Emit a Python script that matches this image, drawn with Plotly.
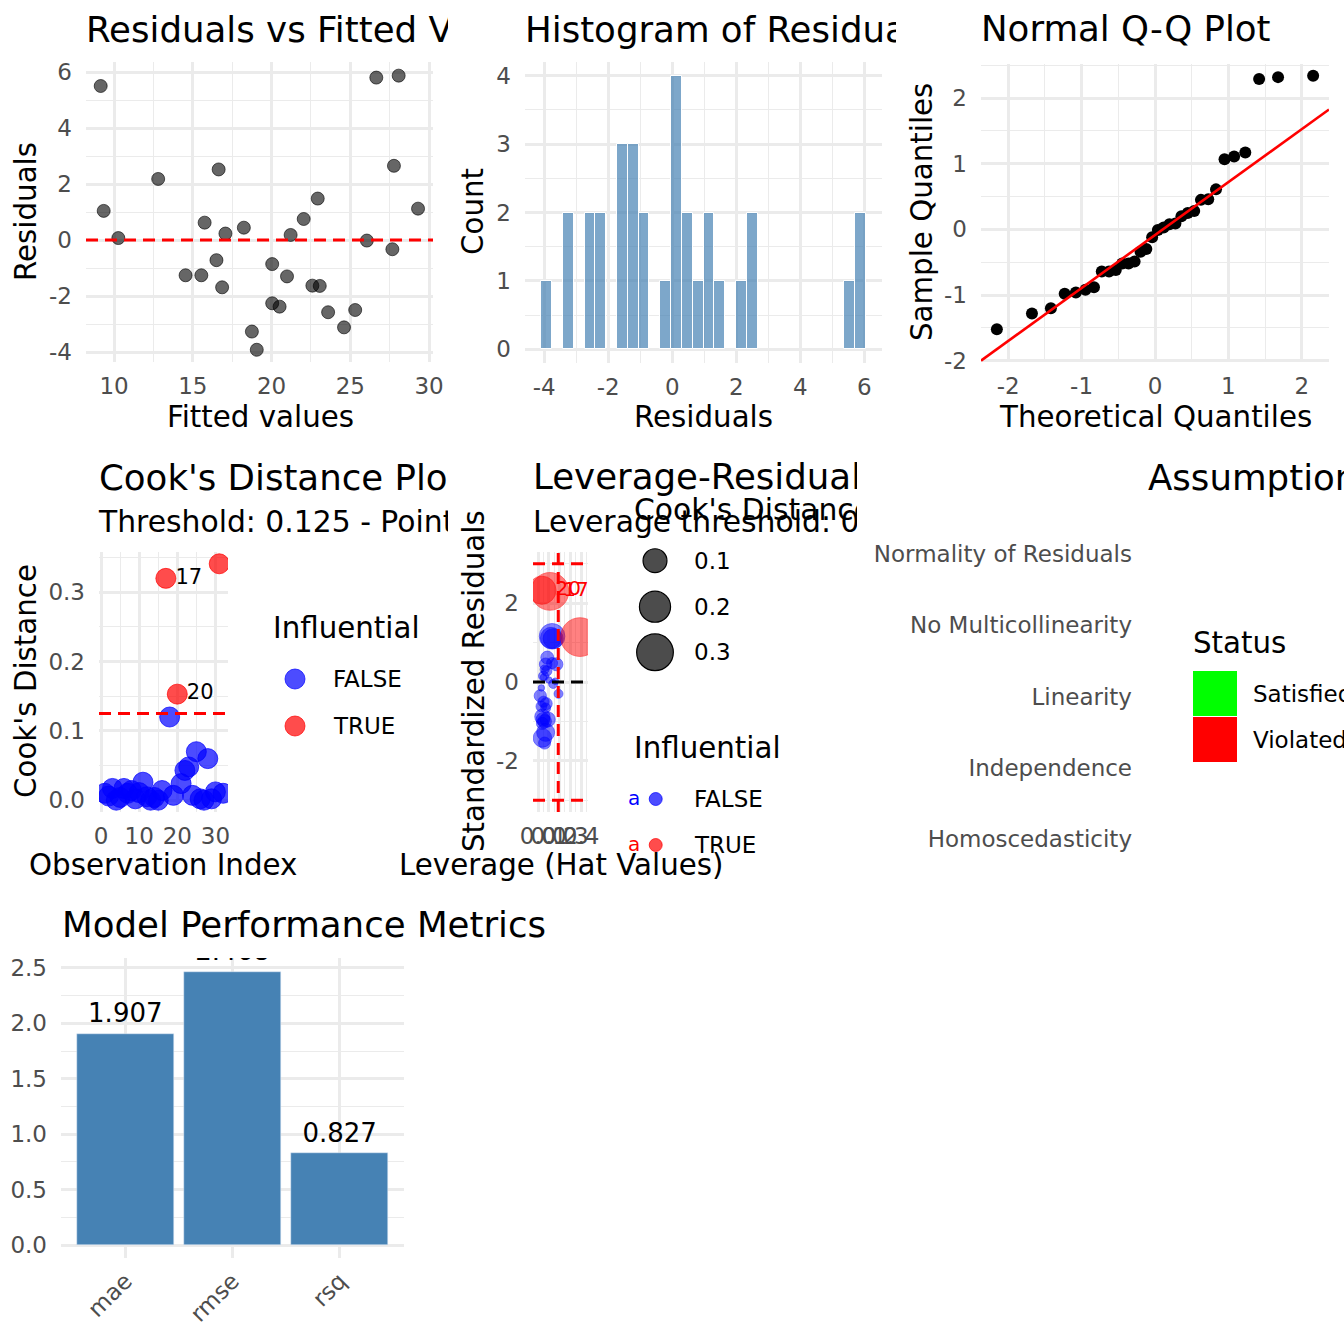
import numpy as np
import plotly.graph_objects as go

W, H = 1344, 1344
FONT = "DejaVu Sans"
GREY = "#4D4D4D"
GRID = "#EBEBEB"
BLUE_A = "rgba(0,0,255,0.7)"
RED_A = "rgba(255,0,0,0.7)"
TITLE_SIZE = 35.6
SUB_SIZE = 29.8

# --- values ----------------------------------------------------------------

# residuals vs fitted (the histogram is binned from the same residuals)
fitted = [9.15, 9.34, 10.27, 12.8, 14.54, 15.54, 15.75, 16.5, 16.64, 16.86, 17.07,
          18.24, 18.75, 19.06, 20.04, 20.04, 20.51, 20.98, 21.21, 22.04, 22.59, 22.93,
          23.06, 23.59, 24.6, 25.31, 26.05, 26.65, 27.67, 27.77, 28.07, 29.3]
residuals = [5.5, 1.04, 0.07, 2.18, -1.26, -1.26, 0.62, -0.72, 2.52, -1.69, 0.23,
             0.44, -3.27, -3.92, -0.86, -2.26, -2.38, -1.3, 0.18, 0.75, -1.63, 1.48,
             -1.64, -2.58, -3.12, -2.5, -0.02, 5.8, -0.33, 2.65, 5.87, 1.12]
hist_start = -4.0888
hist_binwidth = 0.3376

# normal Q-Q
qq_theoretical = [-2.154, -1.676, -1.418, -1.230, -1.078, -0.947, -0.831, -0.725,
                  -0.626, -0.534, -0.446, -0.360, -0.278, -0.197, -0.118, -0.039,
                  0.039, 0.118, 0.197, 0.278, 0.360, 0.446, 0.534, 0.626,
                  0.725, 0.831, 0.947, 1.078, 1.230, 1.418, 1.676, 2.154]
qq_sample = [-1.52, -1.28, -1.20, -0.98, -0.96, -0.92, -0.88, -0.64, -0.64, -0.62,
             -0.52, -0.52, -0.49, -0.34, -0.30, -0.12, -0.01, 0.03, 0.08, 0.09,
             0.20, 0.25, 0.28, 0.45, 0.46, 0.61, 1.07, 1.11, 1.17, 2.29, 2.32, 2.34]
qq_slope = 0.807
qq_intercept = -0.086

# Cook's distance per observation
obs_index = [1, 2, 3, 4, 5, 6, 7, 8, 9, 10, 11, 12, 13, 14, 15, 16,
             17, 18, 19, 20, 21, 22, 23, 24, 25, 26, 27, 28, 29, 30, 31, 32]
cooks_d = [0.010, 0.006, 0.017, 0.000, 0.004, 0.017, 0.010, 0.014, 0.002, 0.011,
           0.026, 0.005, 0.000, 0.004, 0.000, 0.014, 0.320, 0.120, 0.007, 0.153,
           0.024, 0.043, 0.048, 0.007, 0.070, 0.002, 0.000, 0.060, 0.002, 0.012,
           0.341, 0.010]
cook_threshold = 0.125

# leverage vs standardized residuals (same observation order)
hat_values = [0.04, 0.03, 0.06, 0.10, 0.05, 0.045, 0.075, 0.085, 0.06, 0.02, 0.04,
              0.08, 0.05, 0.07, 0.16, 0.17, 0.11, 0.13, 0.13, 0.036, 0.09, 0.07,
              0.04, 0.05, 0.12, 0.14, 0.03, 0.14, 0.19, 0.07, 0.39, 0.06]
std_residuals = [-1.05, -0.62, -1.00, 0.05, 0.15, -0.95, -0.55, 0.62, 0.32, -0.35,
                 -0.88, 0.28, 0.12, -0.66, 0.02, 0.45, 2.30, 1.16, 0.48, 2.33,
                 -0.95, -1.28, -1.42, -0.50, 1.12, -0.05, -0.15, 1.10, -0.30, 0.45,
                 1.14, -1.55]
leverage_threshold = 0.1875
size_legend_values = [0.1, 0.2, 0.3]

# assumption checks (bottom to top)
assumption_names = ["Homoscedasticity", "Independence", "Linearity",
                    "No Multicollinearity", "Normality of Residuals"]
status_names = ["Satisfied", "Violated"]
status_colors = ["#00FF00", "#FF0000"]

# model metrics
metric_names = ["mae", "rmse", "rsq"]
metric_values = [1.907, 2.468, 0.827]
metric_label_nudge = 0.045


# --- helpers ---------------------------------------------------------------

def fx(p):
    return p / W


def fy(p):
    return 1 - p / H


def xa(n):
    return "x" if n == 1 else "x%d" % n


def ya(n):
    return "y" if n == 1 else "y%d" % n


def ticks(vals, fmt="%g"):
    # ggplot prints a plain hyphen for negatives
    return dict(tickmode="array", tickvals=vals, ticktext=[fmt % v for v in vals])


def axis(x0, x1, rng, **kw):
    d = dict(domain=[x0, x1], range=rng, showline=False, zeroline=False, ticks="",
             showgrid=True, gridcolor=GRID, gridwidth=2.7, tickangle=0, automargin=False,
             tickfont=dict(family=FONT, size=23, color=GREY), fixedrange=True)
    d.update(kw)
    return d


def minor(step):
    return dict(tickmode="linear", tick0=0, dtick=step, showgrid=True,
                gridcolor=GRID, gridwidth=1.4)


layout = {}
annotations = []
shapes = []
fig = go.Figure()


def panel(n, px0, px1, py0, py1, xr, yr, xkw, ykw):
    xo = dict(anchor=ya(n), ticklabelstandoff=8)
    xo.update(xkw)
    yo = dict(anchor=xa(n), ticklabelstandoff=13)
    yo.update(ykw)
    layout[xa(n).replace("x", "xaxis")] = axis(fx(px0), fx(px1), xr, **xo)
    layout[ya(n).replace("y", "yaxis")] = axis(fy(py1), fy(py0), yr, **yo)


def text(x, y, s, size=29.3, color="black", xanchor="left", angle=0):
    annotations.append(dict(x=fx(x), y=fy(y), xref="paper", yref="paper", text=s,
                            showarrow=False, xanchor=xanchor, yanchor="middle",
                            textangle=angle, borderpad=0, borderwidth=0,
                            font=dict(family=FONT, size=size, color=color)))


def clip_region(n, x0, x1, y0, y1):
    # invisible pixel-scaled subplot: text placed in it is cut at its edges
    layout["xaxis%d" % n] = dict(domain=[fx(x0), fx(x1)], range=[x0, x1], visible=False,
                                 anchor="y%d" % n, fixedrange=True, automargin=False)
    layout["yaxis%d" % n] = dict(domain=[fy(y1), fy(y0)], range=[y1, y0], visible=False,
                                 anchor="x%d" % n, fixedrange=True, automargin=False)


def clipped_text(n, x, y, s, size):
    fig.add_trace(go.Scatter(x=[x], y=[y + 0.115 * size], mode="text", text=[s],
                             textposition="middle right", cliponaxis=True,
                             textfont=dict(family=FONT, size=size, color="black"),
                             xaxis="x%d" % n, yaxis="y%d" % n))


def key_circle(cx, cy, d, fill, line, lw=1):
    shapes.append(dict(type="circle", xref="paper", yref="paper", xsizemode="pixel",
                       ysizemode="pixel", xanchor=fx(cx), yanchor=fy(cy),
                       x0=-d / 2, x1=d / 2, y0=-d / 2, y1=d / 2,
                       fillcolor=fill, line=dict(color=line, width=lw)))


def dashed(xref, yref, x0, x1, y0, y1, color="red", dash="12px,7px"):
    shapes.append(dict(type="line", xref=xref, yref=yref, x0=x0, x1=x1, y0=y0, y1=y1,
                       line=dict(color=color, width=3, dash=dash), layer="above"))


def cook_size(c):
    # ggplot area scale, range 1..6
    return 6.45 * (1 + 5 * np.sqrt(c / max(cooks_d)))


# --- 1. residuals vs fitted --------------------------------------------------
panel(1, 86, 433, 62, 362, [8.217, 30.25], [-4.357, 6.357],
      dict(dtick=5, minor=minor(2.5)), dict(ticks([-4, -2, 0, 2, 4, 6]), minor=minor(1)))
fig.add_trace(go.Scatter(x=fitted, y=residuals, mode="markers", xaxis="x", yaxis="y",
                         marker=dict(size=13, color="rgba(0,0,0,0.6)",
                                     line=dict(color="rgba(0,0,0,0.6)", width=1))))
dashed("x domain", "y", 0, 1, 0, 0)
text(260, 416.7, "Fitted values", xanchor="center")
text(26, 212, "Residuals", xanchor="center", angle=-90)

# --- 2. histogram ------------------------------------------------------------
panel(2, 525, 882, 62, 363, [-4.6, 6.55], [-0.2, 4.2],
      dict(ticks([-4, -2, 0, 2, 4, 6]), minor=minor(1)), dict(dtick=1, minor=minor(0.5)))
fig.add_trace(go.Histogram(x=residuals, xaxis="x2", yaxis="y2",
                           xbins=dict(start=hist_start, end=hist_start + 30 * hist_binwidth,
                                      size=hist_binwidth),
                           marker=dict(color="rgba(70,130,180,0.7)",
                                       line=dict(color="white", width=1))))
text(703, 416.7, "Residuals", xanchor="center")
text(473, 212, "Count", xanchor="center", angle=-90)

# --- 3. normal Q-Q -----------------------------------------------------------
qq_range = [-2.37, 2.37]
panel(3, 981, 1329, 64, 362, qq_range, [-2.02, 2.52],
      dict(ticks([-2, -1, 0, 1, 2]), minor=minor(0.5)),
      dict(ticks([-2, -1, 0, 1, 2]), minor=minor(0.5)))
fig.add_trace(go.Scatter(x=qq_theoretical, y=qq_sample, mode="markers", xaxis="x3", yaxis="y3",
                         marker=dict(size=12, color="black")))
fig.add_trace(go.Scatter(x=qq_range, y=[qq_intercept + qq_slope * v for v in qq_range],
                         mode="lines", line=dict(color="red", width=2.6),
                         xaxis="x3", yaxis="y3"))
text(981, 29, "Normal Q-Q Plot", size=TITLE_SIZE)
text(1155, 416.7, "Theoretical Quantiles", xanchor="center")
text(922, 212, "Sample Quantiles", xanchor="center", angle=-90)

# --- 4. Cook's distance ------------------------------------------------------
influential = [c > cook_threshold for c in cooks_d]
panel(4, 99, 228, 552, 812, [-0.53, 33.3], [-0.017, 0.358],
      dict(dtick=10, minor=minor(5)), dict(dtick=0.1, tickformat=".1f", minor=minor(0.05)))
for flag, col in [(False, BLUE_A), (True, RED_A)]:
    fig.add_trace(go.Scatter(x=[i for i, f in zip(obs_index, influential) if f == flag],
                             y=[c for c, f in zip(cooks_d, influential) if f == flag],
                             mode="markers", xaxis="x4", yaxis="y4",
                             marker=dict(size=20, color=col, line=dict(color=col, width=1))))
fig.add_trace(go.Scatter(x=[i + 2.5 for i, f in zip(obs_index, influential) if f],
                         y=[c for c, f in zip(cooks_d, influential) if f],
                         text=[str(i) for i, f in zip(obs_index, influential) if f],
                         mode="text", textposition="middle right", cliponaxis=True,
                         textfont=dict(family=FONT, size=21, color="black"),
                         xaxis="x4", yaxis="y4"))
dashed("x4 domain", "y4", 0, 1, cook_threshold, cook_threshold)
text(163, 865, "Observation Index", xanchor="center")
text(26, 681, "Cook's Distance", xanchor="center", angle=-90)
text(273, 628, "Influential")
for cy, lab, col in [(679, "FALSE", BLUE_A), (726, "TRUE", RED_A)]:
    key_circle(295, cy, 20, col, col)
    text(333, cy, lab, size=23)

# --- 5. leverage vs residuals ------------------------------------------------
panel(5, 533, 588, 552, 812, [-0.048, 0.465], [-3.3, 3.3],
      dict(ticks([0, 0.1, 0.2, 0.3, 0.4], "%.1f"), minor=minor(0.05)),
      dict(ticks([-2, 0, 2]), minor=minor(1)))
for flag, col in [(False, BLUE_A), (True, RED_A)]:
    fig.add_trace(go.Scatter(x=[h for h, f in zip(hat_values, influential) if f == flag],
                             y=[r for r, f in zip(std_residuals, influential) if f == flag],
                             mode="markers", xaxis="x5", yaxis="y5",
                             marker=dict(size=[cook_size(c) for c, f in zip(cooks_d, influential) if f == flag],
                                         color=col, line=dict(color=col, width=1))))
fig.add_trace(go.Scatter(x=[h + 0.125 for h, f in zip(hat_values, influential) if f],
                         y=[r for r, f in zip(std_residuals, influential) if f],
                         text=[str(i) for i, f in zip(obs_index, influential) if f],
                         mode="text", textposition="middle right", cliponaxis=True,
                         textfont=dict(family=FONT, size=20, color="red"),
                         xaxis="x5", yaxis="y5"))
dashed("x5 domain", "y5", 0, 1, 0, 0, color="black")
dashed("x5 domain", "y5", 0, 1, 3, 3)
dashed("x5 domain", "y5", 0, 1, -3, -3)
dashed("x5", "y5 domain", leverage_threshold, leverage_threshold, 0, 1)
text(561, 865, "Leverage (Hat Values)", xanchor="center")
text(474, 681, "Standardized Residuals", xanchor="center", angle=-90)
for cy, v in zip([560.7, 606.7, 652.3], size_legend_values):
    key_circle(655, cy, cook_size(v), "rgba(0,0,0,0.7)", "black", 1.2)
    text(694, cy, "%.1f" % v, size=23)
text(634, 748, "Influential")
for cy, lab, col, txtcol in [(799, "FALSE", BLUE_A, "blue"), (845, "TRUE", RED_A, "red")]:
    text(633.5, cy - 1.5, "a", size=20, color=txtcol, xanchor="center")
    key_circle(655.7, cy, 13, col, col)
    text(694, cy, lab, size=23)

# --- 6. assumption checks ----------------------------------------------------
panel(6, 1146, 1150, 511, 882, [0, 1], [0.4, 5.6], dict(visible=False),
      dict(tickvals=[1, 2, 3, 4, 5], ticktext=assumption_names, showgrid=False))
fig.add_trace(go.Scatter(x=[], y=[], xaxis="x6", yaxis="y6"))
text(1148, 477, "Assumption Checks", size=TITLE_SIZE)
text(1193, 643, "Status")
for (y0, y1), name, col in zip([(671, 716), (717, 762)], status_names, status_colors):
    shapes.append(dict(type="rect", xref="paper", yref="paper", x0=fx(1193), x1=fx(1237),
                       y0=fy(y1), y1=fy(y0), fillcolor=col, line=dict(width=0)))
    text(1253, (y0 + y1) / 2, name, size=23)

# --- 7. model metrics --------------------------------------------------------
panel(7, 61, 404, 958, 1258, [-0.6, 2.6], [-0.117, 2.59],
      dict(tickangle=-45, ticklabelstandoff=4), dict(dtick=0.5, tickformat=".1f", minor=minor(0.25)))
fig.add_trace(go.Bar(x=metric_names, y=metric_values, width=0.9, marker=dict(color="#4682B4"),
                     xaxis="x7", yaxis="y7"))
fig.add_trace(go.Scatter(x=metric_names, y=[v + metric_label_nudge for v in metric_values],
                         text=["%.3f" % v for v in metric_values],
                         mode="text", textposition="top center", cliponaxis=True,
                         textfont=dict(family=FONT, size=26, color="black"),
                         xaxis="x7", yaxis="y7"))
text(62, 924, "Model Performance Metrics", size=TITLE_SIZE)

# --- titles cut at their panel borders ----------------------------------------
clip_region(8, 0, 448, 0, 448)
clip_region(9, 448, 896, 0, 448)
clip_region(10, 0, 448, 448, 896)
clip_region(11, 448, 857, 448, 896)
clipped_text(8, 86, 29, "Residuals vs Fitted Values", TITLE_SIZE)
clipped_text(9, 525, 29, "Histogram of Residuals", TITLE_SIZE)
clipped_text(10, 99, 476.7, "Cook's Distance Plot", TITLE_SIZE)
clipped_text(10, 99, 521, "Threshold: 0.125 - Points above line are influential", SUB_SIZE)
clipped_text(11, 533, 475.7, "Leverage-Residual Plot", TITLE_SIZE)
clipped_text(11, 533, 521, "Leverage threshold: 0.188", SUB_SIZE)
clipped_text(11, 634, 509, "Cook's Distance", SUB_SIZE)

fig.update_layout(**layout)
fig.update_layout(width=W, height=H, margin=dict(l=0, r=0, t=0, b=0, autoexpand=False),
                  paper_bgcolor="white", plot_bgcolor="rgba(0,0,0,0)",
                  showlegend=False, bargap=0, font=dict(family=FONT),
                  annotations=annotations, shapes=shapes)
fig.update_traces(hoverinfo="skip")

# the page's default body margin would push the figure 8px right and down
fig.write_html("out.html", config={"displayModeBar": False},
               post_script="document.body.style.margin='0px';")
